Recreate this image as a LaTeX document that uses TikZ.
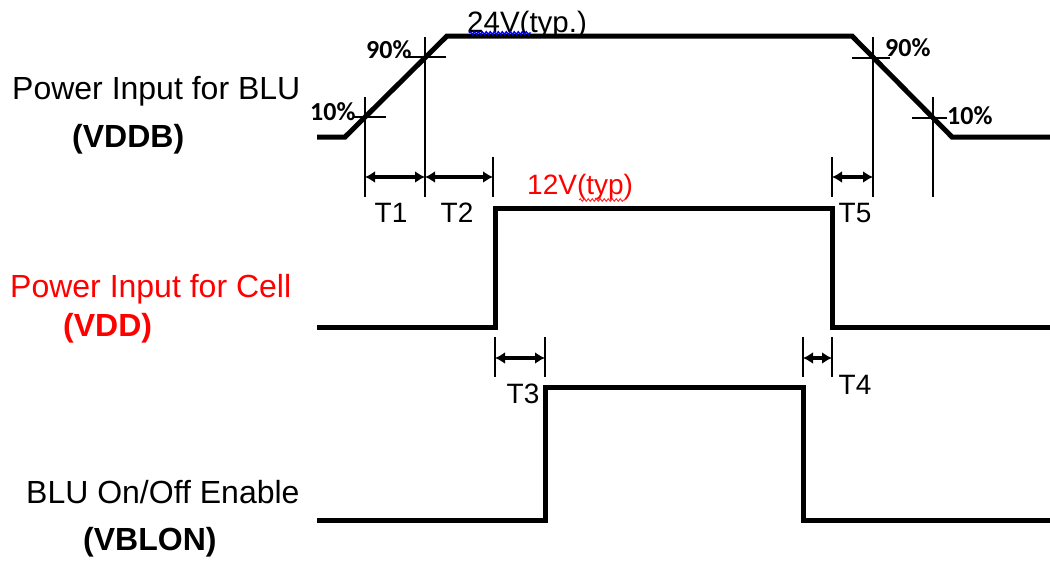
\documentclass[tikz,border=0pt]{standalone}
\usepackage{fontspec}
\setmainfont{Liberation Sans}
\newfontfamily\carl{Carlito}
\usetikzlibrary{arrows.meta,decorations.pathmorphing}
\tikzset{
  wave/.style={line width=5pt, black},
  marker/.style={line width=2.6pt, black},
  dim/.style={line width=3.6pt, black, {Latex[length=10pt,width=12pt]}-{Latex[length=10pt,width=12pt]}},
  lbl/.style={inner sep=0pt, anchor=base west, font=\fontsize{32}{32}\selectfont},
  blbl/.style={lbl, font=\fontsize{32}{32}\selectfont\bfseries},
  tlbl/.style={inner sep=0pt, anchor=base, font=\fontsize{28}{28}\selectfont},
  pct/.style={inner sep=0pt, anchor=base west, font=\fontsize{26}{26}\selectfont\carl\bfseries},
  vlbl/.style={inner sep=0pt, anchor=base west, font=\fontsize{29.5}{29.5}\selectfont},
}
\begin{document}
\begin{tikzpicture}[x=1pt,y=-1pt]
\useasboundingbox (0,0) rectangle (1050,560);
% ---- left labels
\node[lbl] (l1) at (12,99) {Power Input for BLU};
\node[blbl] (l1b) at (72,147) {(VDDB)};
\node[lbl, text=red] (l2) at (10,297) {Power Input for Cell};
\node[blbl, text=red] (l2b) at (63,336) {(VDD)};
\node[lbl] (l3) at (26,503) {BLU On/Off Enable};
\node[blbl] (l3b) at (83,550) {(VBLON)};
% ---- waveforms
\draw[wave] (317,137) -- (345,137) -- (447,36) -- (852,36) -- (952,137) -- (1050,137);
\draw[wave] (317,327) -- (495,327) -- (495,208) -- (832,208) -- (832,327) -- (1050,327);
\draw[wave] (317,520) -- (545,520) -- (545,387) -- (803,387) -- (803,520) -- (1050,520);
% ---- value labels
\node[vlbl] (v24) at (467,32) {24V(typ.)};
\draw[blue, line width=1.4pt, decorate, decoration={snake, amplitude=1.3pt, segment length=4pt}] (469,33) -- (531,33);
\node[vlbl, text=red, font=\fontsize{28}{28}\selectfont] (v12) at (527,194) {12V(typ)};
\draw[red!80, line width=1pt, decorate, decoration={snake, amplitude=1.3pt, segment length=4pt}] (579,200) -- (625,200);
% ---- 10% / 90% markers
\coordinate (a10t) at (365,97);  \coordinate (a10b) at (365,197);
\coordinate (a90t) at (425,37);  \coordinate (a90b) at (425,197);
\coordinate (b90t) at (873,37);  \coordinate (b90b) at (873,197);
\coordinate (b10t) at (933,97);  \coordinate (b10b) at (933,197);
\draw[marker] (a10t) -- (a10b);
\draw[marker] (a90t) -- (a90b);
\draw[marker] (b90t) -- (b90b);
\draw[marker] (b10t) -- (b10b);
\draw[marker] (353,117) -- (386,117);
\draw[marker] (408,57) -- (446,57);
\draw[marker] (852,58) -- (890,58);
\draw[marker] (912,118) -- (947,118);
\node[pct] (p10a) at (310,120) {10\%};
\node[pct] (p90a) at (366,58) {90\%};
\node[pct] (p90b) at (885,56) {90\%};
\node[pct] (p10b) at (947,124) {10\%};
% ---- extra ticks
\coordinate (t2t) at (493,157); \coordinate (t2b) at (493,197);
\coordinate (t5t) at (832,157); \coordinate (t5b) at (832,197);
\draw[marker] (t2t) -- (t2b);
\draw[marker] (t5t) -- (t5b);
\coordinate (t3at) at (495,337); \coordinate (t3ab) at (495,377);
\coordinate (t3bt) at (545,337); \coordinate (t3bb) at (545,377);
\coordinate (t4at) at (803,337); \coordinate (t4ab) at (803,377);
\coordinate (t4bt) at (832,337); \coordinate (t4bb) at (832,377);
\draw[marker] (t3at) -- (t3ab);
\draw[marker] (t3bt) -- (t3bb);
\draw[marker] (t4at) -- (t4ab);
\draw[marker] (t4bt) -- (t4bb);
% ---- dimension arrows
\coordinate (d1a) at (365,177); \coordinate (d1b) at (425,177);
\coordinate (d2b) at (493,177);
\coordinate (d5a) at (832,177); \coordinate (d5b) at (873,177);
\coordinate (d3a) at (495,358); \coordinate (d3b) at (545,358);
\coordinate (d4a) at (803,358); \coordinate (d4b) at (832,358);
\draw[dim] (d1a) -- (d1b);
\draw[dim] (d1b) -- (d2b);
\draw[dim] (d5a) -- (d5b);
\draw[dim] (d3a) -- (d3b);
\draw[dim] (d4a) -- (d4b);
% ---- time labels
\node[tlbl] (T1) at (391,222) {T1};
\node[tlbl] (T2) at (457,222) {T2};
\node[tlbl] (T5) at (855,222) {T5};
\node[tlbl] (T3) at (523,403) {T3};
\node[tlbl] (T4) at (855,394) {T4};
\end{tikzpicture}
\end{document}
